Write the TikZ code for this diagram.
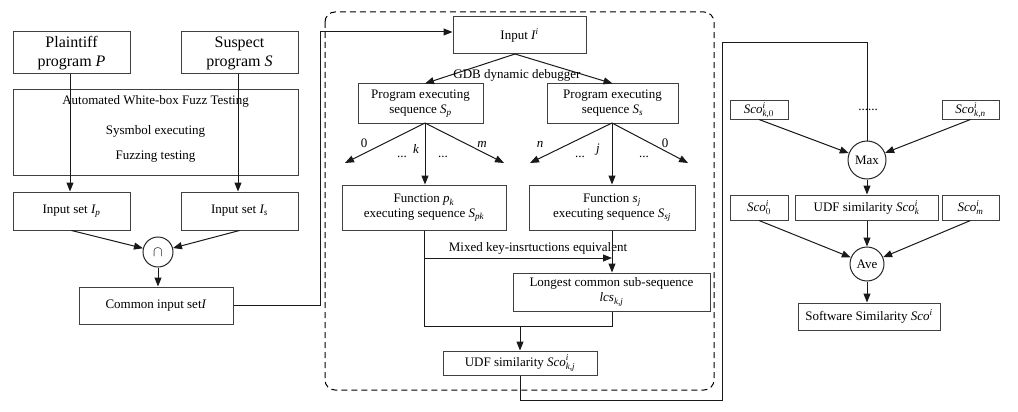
\documentclass[tikz,border=0pt]{standalone}
\usepackage{amsmath}
\usepackage{fontspec}
\setmainfont{Liberation Serif}
\usetikzlibrary{arrows.meta,calc}
\newcommand{\iv}[1]{\textit{#1}}
\begin{document}
\begin{tikzpicture}[x=1pt,y=-1pt,
  every node/.style={font=\fontsize{13}{15}\selectfont},
  bx/.style={draw=black!75, line width=1pt, inner sep=0pt, align=center, text=black},
  cir/.style={draw=black!85, line width=1pt, circle, inner sep=0pt, minimum size=#1},
  ln/.style={draw=black!90, line width=1pt},
  arr/.style={ln, -{Triangle[length=9pt,width=7pt]}},
  lab/.style={inner sep=0pt, font=\fontsize{13}{15}\selectfont}]
\useasboundingbox (0,0) rectangle (1018,412);
% dashed frame
\draw[black, line width=1pt, dash pattern=on 6pt off 4pt, rounded corners=10pt] (325,12) rectangle (714,390);

% ---------- left part
\node[bx, minimum width=117, minimum height=42, font=\fontsize{16}{19}\selectfont] (P) at (71.5,53) {Plaintiff\\program \iv{P}};
\node[bx, minimum width=117, minimum height=42, font=\fontsize{16}{19}\selectfont] (S) at (239.5,53) {Suspect\\program \iv{S}};
\node[bx, minimum width=285, minimum height=85] (fuzz) at (155.5,132.5) {};
\node[lab] (fz1) at (155.5,101) {Automated White-box Fuzz Testing};
\node[lab] (fz2) at (155.5,131) {Sysmbol executing};
\node[lab] (fz3) at (155.5,157) {Fuzzing testing};
\node[bx, minimum width=117, minimum height=38] (Ip) at (71.5,211) {Input set $\iv{I}_{\iv{p}}$};
\node[bx, minimum width=117, minimum height=38] (Is) at (239.5,211) {Input set $\iv{I}_{\iv{s}}$};
\node[cir=30, font=\fontsize{14}{16}\selectfont] (cap) at (158,252) {$\cap$};
\node[bx, minimum width=154, minimum height=37] (common) at (156,305.5) {Common input set\iv{I}};
\draw[arr] (P.south -| 70,0) -- (Ip.north -| 70,0);
\draw[arr] (S.south -| 238,0) -- (Is.north -| 238,0);
\draw[arr] (Ip.south) -- (cap);
\draw[arr] (Is.south) -- (cap);
\draw[arr] (cap.south) -- (common.north -| cap.south);

% ---------- middle part
\node[bx, minimum width=133, minimum height=37] (inp) at (519.5,35.5) {Input $\iv{I}^{\iv{i}}$};
\coordinate (turn) at (320,305.5);
\draw[arr] (common.east) -- (turn) |- ([yshift=3.5pt]inp.west);
\node[bx, minimum width=125, minimum height=39] (Sp) at (420.5,103.5) {Program executing\\sequence $\iv{S}_{\iv{p}}$};
\node[bx, minimum width=131, minimum height=39] (Ss) at (612.5,103.5) {Program executing\\sequence $\iv{S}_{\iv{s}}$};
\coordinate (inpb) at (515,54);
\draw[arr] (inpb) -- (Sp.north -| 425,0);
\draw[arr] (inpb) -- (Ss.north);
\node[lab] (gdb) at (517,75) {GDB dynamic debugger};

\node[bx, minimum width=164, minimum height=45] (Fp) at (424,207.5) {Function $\iv{p}_{\iv{k}}$\\executing sequence $\iv{S}_{\iv{pk}}$};
\node[bx, minimum width=166, minimum height=45] (Fs) at (612,207.5) {Function $\iv{s}_{\iv{j}}$\\executing sequence $\iv{S}_{\iv{sj}}$};
\coordinate (spb) at (425,123);
\coordinate (ssb) at (612,123);
\coordinate (pl) at (345,163);
\coordinate (pr) at (504,163);
\coordinate (sl) at (530,163);
\coordinate (sr) at (688,163);
\draw[arr] (spb) -- (pl);
\draw[arr] (spb) -- (Fp.north -| spb);
\draw[arr] (spb) -- (pr);
\draw[arr] (ssb) -- (sl);
\draw[arr] (ssb) -- (Fs.north -| ssb);
\draw[arr] (ssb) -- (sr);
\node[lab] (l0a) at (364,143) {0};
\node[lab] (lda) at (402,157) {...};
\node[lab] (lk) at (416,149) {\iv{k}};
\node[lab] (ldb) at (443,157) {...};
\node[lab] (lm) at (482,144) {\iv{m}};
\node[lab] (ln) at (540,144) {\iv{n}};
\node[lab] (ldc) at (580,157) {...};
\node[lab] (lj) at (598,150) {\iv{j}};
\node[lab] (ldd) at (644,157) {...};
\node[lab] (l0b) at (665,143) {0};

\node[bx, minimum width=197, minimum height=38] (lcs) at (611.5,292) {Longest common sub-sequence\\$\iv{lcs}_{\iv{k,j}}$};
\coordinate (mixend) at (612,258);
\draw[arr] (Fp.south) |- (mixend);
\node[lab] (mix) at (538,248) {Mixed key-insrtuctions equivalent};
\draw[arr] (Fs.south) -- (lcs.north -| Fs.south);
\node[bx, minimum width=154, minimum height=24] (udf) at (520,363) {UDF similarity $\iv{Sco}^{\iv{i}}_{\iv{k,j}}$};
\coordinate (bj) at (520,326);
\draw[ln] (Fp.south) -- (Fp.south |- bj) -- (Fs.south |- bj) -- (lcs.south -| Fs.south);
\draw[arr] (bj) -- (udf.north);

% ---------- right part
\node[bx, minimum width=58, minimum height=18] (k0) at (759,110) {$\iv{Sco}^{\iv{i}}_{\iv{k,}0}$};
\node[bx, minimum width=57, minimum height=18] (kn) at (970.5,110) {$\iv{Sco}^{\iv{i}}_{\iv{k,n}}$};
\node[lab] (dots) at (868,110) {......};
\node[cir=38] (maxc) at (867,160) {Max};
\coordinate (c1) at (722,400);
\coordinate (c2) at (722,43);
\draw[ln] (udf.south) |- (c1) -- (c2) -| (maxc.north);
\draw[arr] (k0.south) -- (maxc);
\draw[arr] (kn.south) -- (maxc);
\node[bx, minimum width=58, minimum height=25] (s0) at (759,207.5) {$\iv{Sco}^{\iv{i}}_{0}$};
\node[bx, minimum width=143, minimum height=25] (udfk) at (866.5,207.5) {UDF similarity $\iv{Sco}^{\iv{i}}_{\iv{k}}$};
\node[bx, minimum width=57, minimum height=25] (sm) at (970.5,207.5) {$\iv{Sco}^{\iv{i}}_{\iv{m}}$};
\draw[arr] (maxc.south) -- (udfk.north -| maxc.south);
\node[cir=34] (ave) at (867,264) {Ave};
\draw[arr] (s0.south) -- (ave);
\draw[arr] (udfk.south -| ave) -- (ave.north);
\draw[arr] (sm.south) -- (ave);
\node[bx, minimum width=142, minimum height=27] (soft) at (869,316.5) {Software Similarity $\iv{Sco}^{\iv{i}}$};
\draw[arr] (ave.south) -- (soft.north -| ave.south);
\end{tikzpicture}
\end{document}
